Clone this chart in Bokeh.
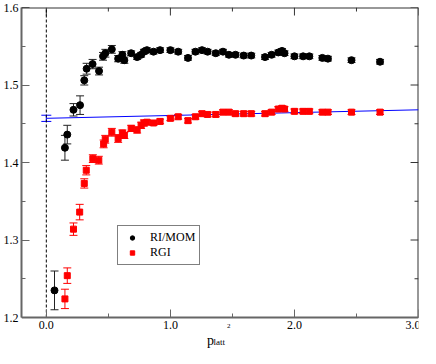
from bokeh.plotting import figure
from bokeh.models import (Range1d, LinearAxis, FixedTicker, Whisker, TeeHead,
                          ColumnDataSource, Legend, LegendItem, Span, Label,
                          NumeralTickFormatter)
from bokeh.embed import file_html
from bokeh.resources import INLINE

# ---------------- data ----------------
mom_x = [0.066, 0.150, 0.169, 0.219, 0.272, 0.306, 0.325, 0.373, 0.425, 0.457,
         0.476, 0.528, 0.579, 0.613, 0.629, 0.684, 0.732, 0.764, 0.787, 0.811,
         0.864, 0.917, 1.000, 1.063, 1.142, 1.202, 1.255, 1.300, 1.366, 1.424,
         1.472, 1.525, 1.591, 1.652, 1.763, 1.816, 1.870, 1.900, 1.920, 2.000,
         2.070, 2.120, 2.225, 2.270, 2.460, 2.690]
mom_y = [1.235, 1.419, 1.436, 1.468, 1.474, 1.506, 1.521, 1.527, 1.518, 1.537,
         1.541, 1.546, 1.534, 1.539, 1.532, 1.541, 1.536, 1.539, 1.543, 1.545,
         1.543, 1.545, 1.545, 1.543, 1.535, 1.543, 1.545, 1.543, 1.541, 1.543,
         1.539, 1.539, 1.538, 1.538, 1.536, 1.539, 1.542, 1.544, 1.541, 1.537,
         1.537, 1.537, 1.535, 1.534, 1.532, 1.530]
mom_err = [0.025, 0.016, 0.012, 0.008, 0.012, 0.006, 0.007, 0.006, 0.005, 0.005,
           0.005, 0.005, 0.004, 0.004, 0.004, 0.003, 0.003, 0.003, 0.003, 0.003,
           0.003, 0.003, 0.003, 0.003, 0.003, 0.003, 0.003, 0.003, 0.003, 0.003,
           0.003, 0.003, 0.003, 0.003, 0.003, 0.003, 0.003, 0.003, 0.003, 0.003,
           0.003, 0.003, 0.003, 0.003, 0.003, 0.003]

rgi_x = [0.150, 0.169, 0.219, 0.269, 0.306, 0.322, 0.375, 0.423, 0.462, 0.475,
         0.528, 0.579, 0.613, 0.629, 0.684, 0.732, 0.764, 0.787, 0.811, 0.864,
         0.917, 1.000, 1.063, 1.142, 1.202, 1.255, 1.300, 1.366, 1.424, 1.472,
         1.525, 1.591, 1.652, 1.763, 1.816, 1.870, 1.900, 1.920, 2.000, 2.070,
         2.120, 2.225, 2.270, 2.460, 2.690]
rgi_y = [1.224, 1.254, 1.314, 1.336, 1.373, 1.390, 1.405, 1.403, 1.424, 1.430,
         1.439, 1.431, 1.438, 1.435, 1.444, 1.442, 1.448, 1.451, 1.452, 1.451,
         1.453, 1.457, 1.459, 1.454, 1.459, 1.463, 1.462, 1.462, 1.465, 1.465,
         1.463, 1.463, 1.463, 1.463, 1.465, 1.469, 1.470, 1.469, 1.466, 1.466,
         1.466, 1.465, 1.465, 1.465, 1.465]
rgi_err = [0.0125, 0.010, 0.008, 0.010, 0.006, 0.006, 0.005, 0.005, 0.005, 0.005,
           0.005, 0.005, 0.004, 0.004, 0.004, 0.004, 0.004, 0.004, 0.003, 0.003,
           0.003, 0.003, 0.003, 0.003, 0.003, 0.003, 0.003, 0.003, 0.003, 0.003,
           0.003, 0.003, 0.003, 0.003, 0.003, 0.003, 0.003, 0.003, 0.003, 0.003,
           0.003, 0.003, 0.003, 0.003, 0.003]

fit_x = [0.0, 3.0]
fit_y = [1.457, 1.468]
fit0_x = [0.0]
fit0_y = [1.457]
fit0_err = [0.004]

x_ticks = [0.0, 1.0, 2.0, 3.0]
x_minor = [0.5, 1.5, 2.5]
y_ticks = [1.2, 1.3, 1.4, 1.5, 1.6]
y_minor = [1.25, 1.35, 1.45, 1.55]

series_labels = ["RI/MOM", "RGI"]

SERIF = "Liberation Serif"
X0, X1, Y0, Y1 = -0.2, 3.0, 1.2, 1.6
Y_EXT = 1.16          # frame extends below the axis so the axis title can live inside it
# approximate plot-box size in px (for tick lengths on the mirrored top/right sides)
PX_X = (X1 - X0) / 400.0
PX_Y = (Y1 - Y0) / 310.0

# ---------------- figure ----------------
p = figure(width=420, height=348, x_range=Range1d(X0, X1), y_range=Range1d(Y_EXT, Y1),
           output_backend="svg", toolbar_location=None,
           x_axis_type=None, y_axis_type=None,
           min_border_left=0, min_border_right=2, min_border_top=7, min_border_bottom=0)
p.outline_line_color = None
p.background_fill_color = "white"
p.border_fill_color = "white"


def make_axis(ticks, minor, color, width):
    ax = LinearAxis(ticker=FixedTicker(ticks=ticks, minor_ticks=minor),
                    formatter=NumeralTickFormatter(format="0.0"))
    ax.major_tick_in = 8
    ax.major_tick_out = 0
    ax.minor_tick_in = 4
    ax.minor_tick_out = 0
    ax.axis_line_color = color
    ax.axis_line_width = width
    ax.major_tick_line_color = color
    ax.minor_tick_line_color = color
    ax.major_tick_line_width = 1
    ax.minor_tick_line_width = 1
    ax.major_label_text_font = SERIF
    ax.major_label_text_font_size = "12px"
    ax.major_label_text_color = "black"
    return ax


bottom = make_axis(x_ticks, x_minor, "#666666", 2)
bottom.major_label_standoff = 3
bottom.fixed_location = Y0
left = make_axis(y_ticks, y_minor, "#666666", 2)
left.major_label_standoff = 3
left.bounds = (Y0, Y1)
p.add_layout(bottom, "below")
p.add_layout(left, "left")

# mirrored top and right frame sides with inward ticks
p.add_layout(Span(location=Y1, dimension="width", line_color="#333333", line_width=2))
p.segment(x0=[X1], x1=[X1], y0=[Y0], y1=[Y1], line_color="#333333", line_width=2)
top_x = x_ticks + x_minor
top_len = [8 * PX_Y] * len(x_ticks) + [4 * PX_Y] * len(x_minor)
p.segment(x0=top_x, x1=top_x, y0=[Y1] * len(top_x),
          y1=[Y1 - l for l in top_len], line_color="#333333", line_width=1)
right_y = y_ticks + y_minor
right_len = [8 * PX_X] * len(y_ticks) + [4 * PX_X] * len(y_minor)
p.segment(x0=[X1] * len(right_y), x1=[X1 - l for l in right_len], y0=right_y,
          y1=right_y, line_color="#333333", line_width=1)

# dashed zero line
p.segment(x0=[0.0], x1=[0.0], y0=[Y0], y1=[Y1], line_color="black",
          line_width=1, line_dash="3 2")

# fit line
p.line(fit_x, fit_y, line_color="blue", line_width=1)
src_fit0 = ColumnDataSource(dict(x=fit0_x, lo=[y - e for y, e in zip(fit0_y, fit0_err)],
                                 hi=[y + e for y, e in zip(fit0_y, fit0_err)]))
p.add_layout(Whisker(source=src_fit0, base="x", lower="lo", upper="hi", dimension="height",
                     line_color="blue", line_width=1,
                     upper_head=TeeHead(size=10, line_color="blue", line_width=1),
                     lower_head=TeeHead(size=10, line_color="blue", line_width=1)))

# error bars
src_mom = ColumnDataSource(dict(x=mom_x, y=mom_y,
                                lo=[y - e for y, e in zip(mom_y, mom_err)],
                                hi=[y + e for y, e in zip(mom_y, mom_err)]))
src_rgi = ColumnDataSource(dict(x=rgi_x, y=rgi_y,
                                lo=[y - e for y, e in zip(rgi_y, rgi_err)],
                                hi=[y + e for y, e in zip(rgi_y, rgi_err)]))

p.add_layout(Whisker(source=src_mom, base="x", lower="lo", upper="hi", dimension="height",
                     line_color="#222222", line_width=1,
                     upper_head=TeeHead(size=8, line_color="#222222", line_width=1),
                     lower_head=TeeHead(size=8, line_color="#222222", line_width=1)))
p.add_layout(Whisker(source=src_rgi, base="x", lower="lo", upper="hi", dimension="height",
                     line_color="red", line_width=1,
                     upper_head=TeeHead(size=8, line_color="red", line_width=1),
                     lower_head=TeeHead(size=8, line_color="red", line_width=1)))

r_mom = p.scatter("x", "y", source=src_mom, marker="circle", size=7,
                  fill_color="black", line_color="black")
r_rgi = p.scatter("x", "y", source=src_rgi, marker="square", size=6,
                  fill_color="red", line_color="red")

legend = Legend(items=[LegendItem(label=series_labels[0], renderers=[r_mom]),
                       LegendItem(label=series_labels[1], renderers=[r_rgi])],
                location=(96, 83))
legend.label_text_font = SERIF
legend.label_text_font_size = "12px"
legend.label_text_color = "black"
legend.label_standoff = 8
legend.glyph_width = 20
legend.glyph_height = 11
legend.label_height = 11
legend.spacing = 0
legend.padding = 4
legend.margin = 0
legend.border_line_color = "black"
legend.border_line_width = 1
legend.background_fill_color = "white"
legend.background_fill_alpha = 1
p.add_layout(legend)

# x axis title: p_latt^2
p.add_layout(Label(x=1.296, y=1.1705, text="p", text_font=SERIF,
                   text_font_size="14px", text_baseline="alphabetic", text_color="black"))
p.add_layout(Label(x=1.348, y=1.1680, text="latt", text_font=SERIF,
                   text_font_size="9px", text_baseline="alphabetic", text_color="black"))
p.add_layout(Label(x=1.456, y=1.1885, text="2", text_font=SERIF,
                   text_font_size="7px", text_baseline="alphabetic", text_color="black"))

open("out.html", "w").write(file_html(p, INLINE))
